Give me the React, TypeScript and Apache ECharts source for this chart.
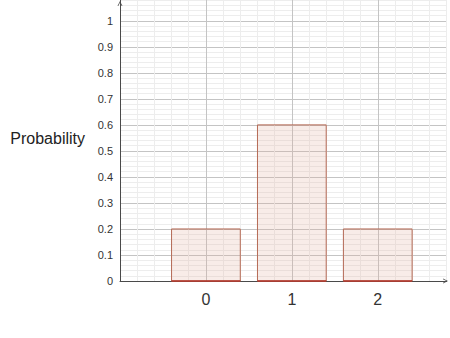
import React, { useEffect, useRef } from "react";
import * as echarts from "echarts";

const outcomes = [0, 1, 2];
const probabilities = [0.2, 0.6, 0.2];
const yAxisName = "Probability";

export default function App() {
  const ref = useRef<HTMLDivElement>(null);
  useEffect(() => {
    const chart = echarts.init(ref.current!, null, { renderer: "svg" });
    const arrow = "path://M0,10 L5,0 L10,10 L8.4,10 L5,3.2 L1.6,10 Z";
    const font = "'Liberation Sans', Arial, sans-serif";
    const minorGridX = {
      type: "value",
      min: -1,
      max: 2.8,
      interval: 0.2,
      position: "bottom",
      axisLine: { show: false },
      axisTick: { show: false },
      axisLabel: { show: false },
      splitLine: { show: true, lineStyle: { color: "#ededed", width: 1 } },
    };
    const minorGridY = {
      type: "value",
      min: 0,
      max: 1.08,
      interval: 0.02,
      position: "left",
      axisLine: { show: false },
      axisTick: { show: false },
      axisLabel: { show: false },
      splitLine: { show: true, lineStyle: { color: "#ededed", width: 1 } },
    };
    chart.setOption({
      animation: false,
      grid: { left: 120, right: 3.5, top: 0, bottom: 57, containLabel: false, outerBoundsMode: "none" },
      graphic: [
        {
          type: "text",
          x: 85,
          y: 138,
          style: {
            text: yAxisName,
            fontSize: 16,
            fill: "#222",
            fontFamily: font,
            align: "right",
            verticalAlign: "middle",
          },
        },
      ],
      xAxis: [
        minorGridX,
        {
          type: "value",
          min: -1,
          max: 2.8,
          interval: 1,
          position: "bottom",
          axisLine: {
            show: true,
            onZero: false,
            symbol: ["none", arrow],
            symbolSize: [9, 5],
            symbolOffset: [0, -1],
            lineStyle: { color: "#4a4a4a", width: 1 },
          },
          axisTick: { show: false },
          axisLabel: {
            margin: 10,
            fontSize: 16,
            color: "#333",
            fontFamily: font,
            showMinLabel: false,
            showMaxLabel: false,
            formatter: (v: number) =>
              outcomes.includes(Math.round(v * 1000) / 1000) ? String(Math.round(v)) : "",
          },
          splitLine: {
            show: true,
            showMinLine: false,
            showMaxLine: false,
            lineStyle: { color: "#c4c4c4", width: 1 },
          },
        },
      ],
      yAxis: [
        minorGridY,
        {
          type: "value",
          min: 0,
          max: 1.08,
          interval: 0.1,
          position: "left",
          axisLine: {
            show: true,
            onZero: false,
            symbol: ["none", arrow],
            symbolSize: [9, 5],
            symbolOffset: [0, -3.5],
            lineStyle: { color: "#4a4a4a", width: 1 },
          },
          axisTick: { show: false },
          axisLabel: {
            margin: 7,
            fontSize: 11,
            color: "#333",
            fontFamily: font,
            showMaxLabel: false,
            formatter: (v: number) => (v > 1.001 ? "" : String(Math.round(v * 10) / 10)),
          },
          splitLine: {
            show: true,
            showMinLine: false,
            showMaxLine: false,
            lineStyle: { color: "#c4c4c4", width: 1 },
          },
        },
      ],
      series: [
        {
          type: "custom",
          xAxisIndex: 1,
          yAxisIndex: 1,
          data: outcomes.map((o, i) => [o, probabilities[i]]),
          z: 3,
          renderItem: (params: any, api: any) => {
            const x = api.value(0);
            const y = api.value(1);
            const halfWidth = 0.4;
            const p1 = api.coord([x - halfWidth, y]);
            const p2 = api.coord([x + halfWidth, 0]);
            return {
              type: "group",
              children: [
                {
                  type: "rect",
                  shape: { x: p1[0], y: p1[1], width: p2[0] - p1[0], height: p2[1] - p1[1] },
                  style: { fill: "rgba(222, 170, 150, 0.22)", stroke: "#b56a55", lineWidth: 1 },
                },
                {
                  type: "line",
                  shape: { x1: p1[0], y1: p2[1], x2: p2[0], y2: p2[1] },
                  style: { stroke: "#b3362a", lineWidth: 1.5 },
                },
              ],
            };
          },
        },
      ],
    });
    return () => chart.dispose();
  }, []);
  return <div ref={ref} style={{ width: 450, height: 338, position: "absolute", left: 0, top: 0 }} />;
}
